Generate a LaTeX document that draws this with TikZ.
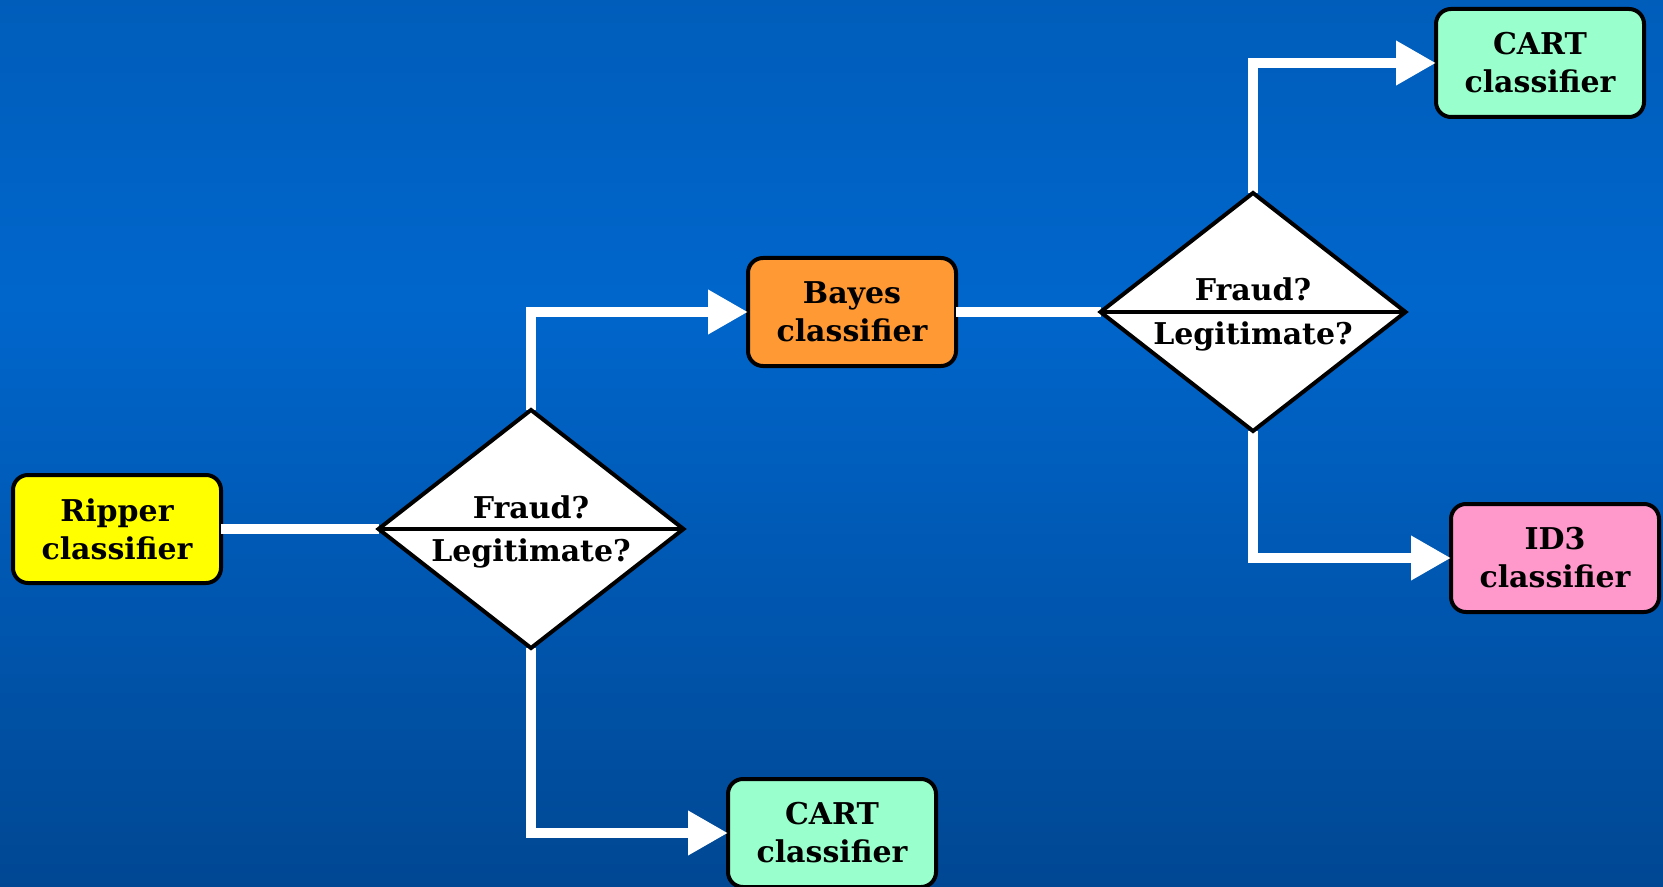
\documentclass[tikz,border=0pt]{standalone}
\usepackage{fontspec}
\setmainfont{DejaVu Serif}
\usetikzlibrary{shapes.geometric,arrows.meta}

\definecolor{bgtop}{RGB}{0,80,160}
\definecolor{bgmid}{RGB}{0,102,204}
\definecolor{bgbot}{RGB}{0,48,104}
\definecolor{ripfill}{RGB}{255,255,0}
\definecolor{bayesfill}{RGB}{255,153,51}
\definecolor{cartfill}{RGB}{153,255,204}
\definecolor{idfill}{RGB}{255,153,204}

% background: darker at top and bottom, brighter in the upper middle
\pgfdeclareverticalshading{bgshade}{100bp}{color(0bp)=(bgbot); color(58bp)=(bgmid); color(100bp)=(bgtop)}

\begin{document}
\begin{tikzpicture}[x=0.5pt,y=-0.5pt,
  txt/.style={font=\bfseries\fontsize{15}{19}\selectfont, text=black},
  box/.style={txt, draw=black, line width=2pt, rounded corners=7.5pt,
    minimum width=104pt, minimum height=54pt, inner sep=0pt, align=center, outer sep=0pt},
  decision/.style={diamond, draw=black, fill=white, line width=2pt,
    minimum width=152.5pt, minimum height=119pt, inner sep=0pt, outer sep=0pt},
  conn/.style={draw=white, line width=5pt},
  flow/.style={conn, -{Triangle[length=20pt,width=21pt]}}
]
\useasboundingbox (0,0) rectangle (1663,887);
\shade[shading=bgshade] (0,0) rectangle (1663,887);

% classifiers
\node[box, fill=ripfill]   (rip)   at (117,529)  {Ripper\\classifier};
\node[box, fill=bayesfill] (bayes) at (852,312)  {Bayes\\classifier};
\node[box, fill=cartfill]  (cartt) at (1540,63)  {CART\\classifier};
\node[box, fill=idfill]    (id3)   at (1555,558) {ID3\\classifier};
\node[box, fill=cartfill]  (cartb) at (832,833)  {CART\\classifier};

% decision points (placed as coordinates first, drawn after the connectors)
\coordinate (d1c) at (531,529);
\coordinate (d2c) at (1253,312);

% connectors
\node[decision, draw=none, fill=none] (d1) at (d1c) {};
\node[decision, draw=none, fill=none] (d2) at (d2c) {};
\draw[conn] (rip.east) -- (d1.west);
\draw[flow] (d1.north) |- (bayes.west);
\draw[flow] (d1.south) |- (cartb.west);
\draw[conn] (bayes.east) -- (d2.west);
\draw[flow] (d2.north) |- (cartt.west);
\draw[flow] (d2.south) |- (id3.west);

% decision diamonds with their split line and questions
\node[decision] (d1b) at (d1c) {};
\draw[line width=2pt] (d1b.west) -- (d1b.east);
\node[txt, anchor=base] (q1a) at ([yshift=5.5pt]d1b.center) {Fraud?};
\node[txt, anchor=base] (q1b) at ([yshift=-16pt]d1b.center) {Legitimate?};

\node[decision] (d2b) at (d2c) {};
\draw[line width=2pt] (d2b.west) -- (d2b.east);
\node[txt, anchor=base] (q2a) at ([yshift=5.5pt]d2b.center) {Fraud?};
\node[txt, anchor=base] (q2b) at ([yshift=-16pt]d2b.center) {Legitimate?};
\end{tikzpicture}
\end{document}
